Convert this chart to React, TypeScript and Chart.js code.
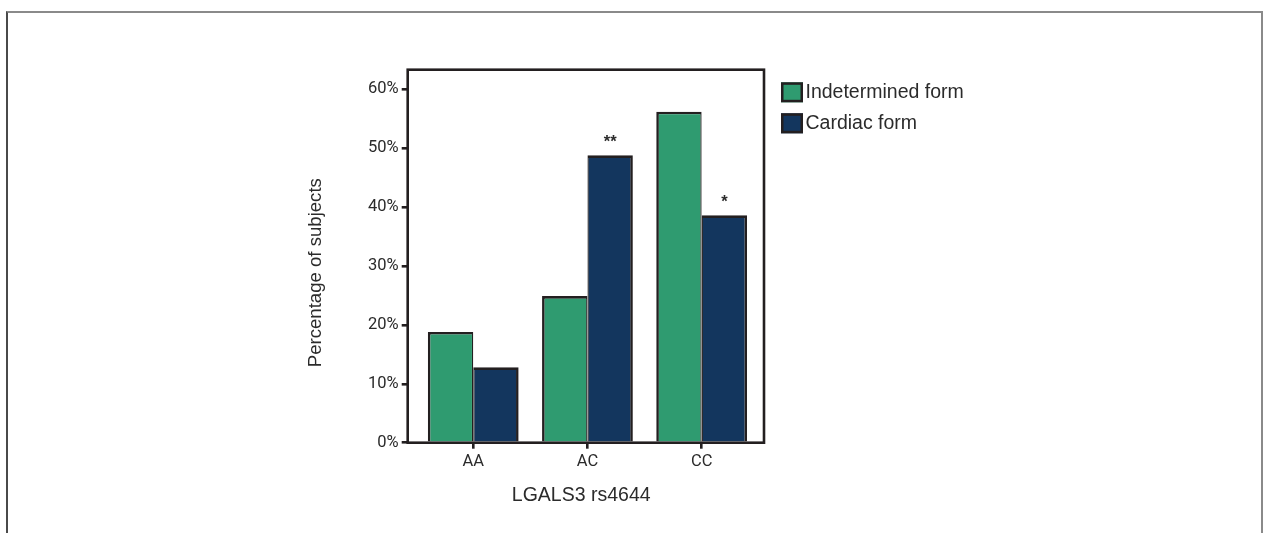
import React, { useEffect, useRef } from 'react';
import { Chart, registerables } from 'chart.js';

Chart.register(...registerables);

// ---- data ----
const categories = ['AA', 'AC', 'CC'];
const seriesLabels = ['Indetermined form', 'Cardiac form'];
const indeterminedValues = [18.8, 24.9, 56.2];
const cardiacValues = [12.8, 48.8, 38.6];
const cardiacMarks = ['', '**', '*'];
const yTickValues = [0, 10, 20, 30, 40, 50, 60];
const xAxisTitle = 'LGALS3 rs4644';
const yAxisTitle = 'Percentage of subjects';

// ---- styles ----
const FONT = '"Liberation Sans", Arial, Helvetica, sans-serif';
const TICK_FONT = 'Roboto, "Liberation Sans", Arial, sans-serif';
const INK = '#231f20';
const TEXT = '#2b2b2b';
const GREEN = '#2f9b70';
const BLUE = '#13365e';

const framePlugin = {
  id: 'frame',
  afterDatasetsDraw(chart: any) {
    const { ctx, chartArea } = chart;
    ctx.save();
    ctx.strokeStyle = INK;
    ctx.lineWidth = 2.6;
    ctx.strokeRect(chartArea.left, chartArea.top, chartArea.right - chartArea.left, chartArea.bottom - chartArea.top);
    ctx.restore();
  },
};

const marksPlugin = {
  id: 'marks',
  afterDatasetsDraw(chart: any) {
    const { ctx } = chart;
    const meta = chart.getDatasetMeta(1);
    ctx.save();
    ctx.fillStyle = TEXT;
    ctx.font = `bold 16.5px ${FONT}`;
    ctx.textAlign = 'center';
    ctx.textBaseline = 'alphabetic';
    meta.data.forEach((bar: any, i: number) => {
      const m = cardiacMarks[i];
      if (m) ctx.fillText(m, bar.x, bar.y - 8);
    });
    ctx.restore();
  },
};

const axisTitlePlugin = {
  id: 'axisTitles',
  afterDraw(chart: any) {
    const { ctx, chartArea } = chart;
    ctx.save();
    ctx.fillStyle = TEXT;
    ctx.textAlign = 'center';
    ctx.textBaseline = 'middle';
    ctx.font = `19.5px ${FONT}`;
    ctx.fillText(xAxisTitle, chartArea.left + 173.5, chartArea.bottom + 53);
    ctx.translate(chartArea.left - 92, chartArea.top + 203);
    ctx.rotate(-Math.PI / 2);
    ctx.font = `18.6px ${FONT}`;
    ctx.fillText(yAxisTitle, 0, 0);
    ctx.restore();
  },
};

const legendPlugin = {
  id: 'customLegend',
  afterDraw(chart: any) {
    const { ctx, chartArea } = chart;
    const x0 = chartArea.right + 17;
    const y0 = chartArea.top + 12.6;
    ctx.save();
    chart.data.datasets.forEach((ds: any, i: number) => {
      const y = y0 + i * 31;
      ctx.fillStyle = ds.backgroundColor;
      ctx.fillRect(x0, y, 22, 20);
      ctx.lineWidth = 2.5;
      ctx.strokeStyle = INK;
      ctx.strokeRect(x0 + 1.25, y + 1.25, 22 - 2.5, 20 - 2.5);
      ctx.fillStyle = TEXT;
      ctx.font = `19.5px ${FONT}`;
      ctx.textAlign = 'left';
      ctx.textBaseline = 'middle';
      ctx.fillText(ds.label, x0 + 24.5, y + 10.5);
    });
    ctx.restore();
  },
};

export default function App() {
  const ref = useRef<HTMLCanvasElement | null>(null);

  useEffect(() => {
    if (!ref.current) return;
    const barBorderLeft = { top: 2.6, left: 2.6, right: 1.3, bottom: 0 };
    const barBorderRight = { top: 2.6, left: 1.3, right: 2.6, bottom: 0 };
    const chart = new Chart(ref.current, {
      type: 'bar',
      data: {
        datasets: [
          {
            label: seriesLabels[0],
            data: categories.map((_, i) => ({ x: i, y: indeterminedValues[i] })),
            backgroundColor: GREEN,
            borderColor: INK,
            borderWidth: barBorderLeft,
            borderSkipped: false,
            categoryPercentage: 0.795,
            barPercentage: 1,
          },
          {
            label: seriesLabels[1],
            data: categories.map((_, i) => ({ x: i, y: cardiacValues[i] })),
            backgroundColor: BLUE,
            borderColor: INK,
            borderWidth: barBorderRight,
            borderSkipped: false,
            categoryPercentage: 0.795,
            barPercentage: 1,
          },
        ],
      },
      options: {
        responsive: false,
        animation: false,
        events: [],
        layout: { padding: { left: 300, top: 69.7, right: 503, bottom: 20.3 } },
        plugins: { legend: { display: false }, tooltip: { enabled: false } },
        scales: {
          x: {
            type: 'linear',
            offset: false,
            min: -0.574,
            max: 2.546,
            afterBuildTicks: (s: any) => {
              s.ticks = categories.map((_, i) => ({ value: i }));
            },
            afterFit: (s: any) => {
              s.height = 70;
            },
            ticks: {
              callback: (v: any) => categories[v] ?? '',
              font: { family: TICK_FONT, size: 16.5 },
              color: TEXT,
              padding: 3,
              maxRotation: 0,
              autoSkip: false,
            },
            grid: {
              offset: false,
              drawOnChartArea: false,
              drawTicks: true,
              tickLength: 6,
              lineWidth: 2.6,
              color: INK,
            },
            border: { display: false },
            title: { display: false },
          },
          y: {
            type: 'linear',
            min: 0,
            max: 63.33,
            afterBuildTicks: (s: any) => {
              s.ticks = yTickValues.map((v) => ({ value: v }));
            },
            afterFit: (s: any) => {
              s.width = 107.7;
            },
            ticks: {
              callback: (v: any) => `${v}%`,
              font: { family: TICK_FONT, size: 16.5 },
              color: TEXT,
              padding: 3,
            },
            grid: {
              drawOnChartArea: false,
              drawTicks: true,
              tickLength: 6,
              lineWidth: 2.6,
              color: INK,
            },
            border: { display: false },
            title: { display: false },
          },
        },
      } as any,
      plugins: [framePlugin, marksPlugin, axisTitlePlugin, legendPlugin],
    });
    return () => chart.destroy();
  }, []);

  return (
    <div style={{ position: 'fixed', left: 0, top: 0, width: 1267, height: 533, background: '#fff', overflow: 'hidden' }}>
      <div
        style={{
          position: 'absolute',
          left: 6,
          top: 11,
          width: 1257,
          height: 540,
          boxSizing: 'border-box',
          borderTop: '2px solid #8a8a8a',
          borderLeft: '2px solid #4a4a4a',
          borderRight: '2px solid #8a8a8a',
        }}
      />
      <canvas ref={ref} width={1267} height={533} style={{ position: 'absolute', left: 0, top: 0, width: 1267, height: 533 }} />
    </div>
  );
}
